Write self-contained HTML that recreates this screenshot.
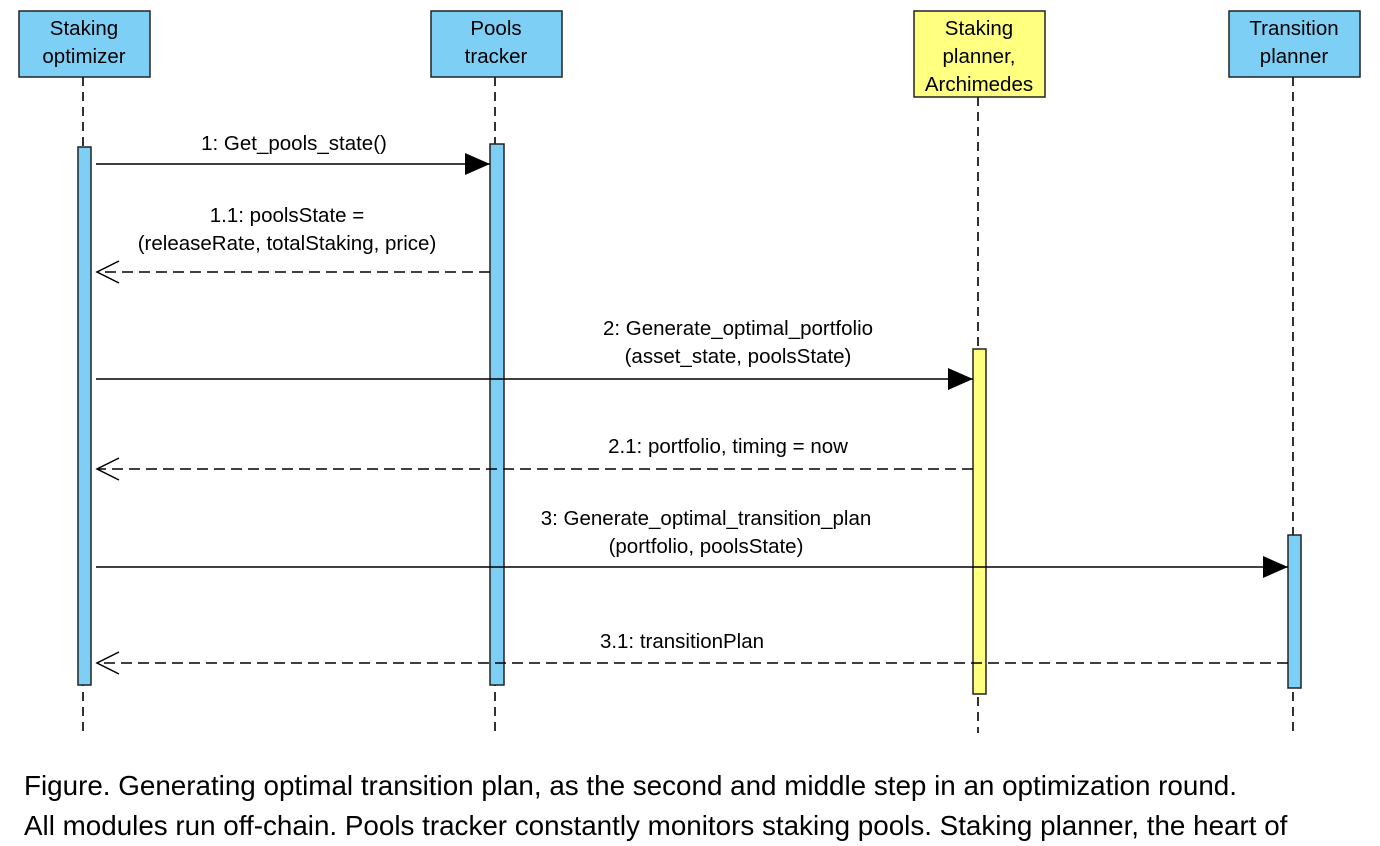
<!DOCTYPE html>
<html><head><style>
body{margin:0;background:#fff;}
svg{display:block;font-family:"Liberation Sans",Arial,sans-serif;}
</style></head><body>
<svg width="1380" height="846" xmlns="http://www.w3.org/2000/svg">
<defs>
<marker id="f" markerWidth="26" markerHeight="22" refX="25" refY="11" orient="auto" markerUnits="userSpaceOnUse"><path d="M0,0 L25,11 L0,22 z" fill="#000"/></marker>
<marker id="o" markerWidth="26" markerHeight="26" refX="23" refY="12" orient="auto" markerUnits="userSpaceOnUse"><path d="M1,1 L23,12 L1,23" fill="none" stroke="#000" stroke-width="1.5"/></marker>
</defs>
<g stroke="#000" stroke-width="1.6" stroke-dasharray="9,6">
<line x1="83" y1="77" x2="83" y2="733"/>
<line x1="495" y1="77" x2="495" y2="733"/>
<line x1="978" y1="97" x2="978" y2="733"/>
<line x1="1293" y1="77" x2="1293" y2="733"/>
</g>
<g stroke="#222" stroke-width="1.5">
<rect x="19" y="11" width="131" height="66" fill="#7dcff5"/>
<rect x="431" y="11" width="131" height="66" fill="#7dcff5"/>
<rect x="914" y="11" width="131" height="86" fill="#ffff80"/>
<rect x="1229" y="11" width="131" height="66" fill="#7dcff5"/>
<rect x="78" y="147" width="13" height="538" fill="#7dcff5"/>
<rect x="490" y="144" width="14" height="541" fill="#7dcff5"/>
<rect x="973" y="349" width="13" height="345" fill="#ffff80"/>
<rect x="1288" y="535" width="13" height="153" fill="#7dcff5"/>
</g>
<g font-size="20.5" text-anchor="middle" fill="#000">
<text x="84" y="35">Staking</text><text x="84" y="63">optimizer</text>
<text x="496" y="35">Pools</text><text x="496" y="63">tracker</text>
<text x="979" y="35">Staking</text><text x="979" y="63">planner,</text><text x="979" y="91">Archimedes</text>
<text x="1294" y="35">Transition</text><text x="1294" y="63">planner</text>
</g>
<g stroke="#000" stroke-width="1.6" fill="none">
<line x1="96" y1="164" x2="490" y2="164" marker-end="url(#f)"/>
<line x1="490" y1="272" x2="97" y2="272" stroke-dasharray="11,6" marker-end="url(#o)"/>
<line x1="96" y1="379" x2="973" y2="379" marker-end="url(#f)"/>
<line x1="973" y1="469" x2="97" y2="469" stroke-dasharray="11,6" marker-end="url(#o)"/>
<line x1="96" y1="567" x2="1288" y2="567" marker-end="url(#f)"/>
<line x1="1288" y1="663" x2="97" y2="663" stroke-dasharray="11,6" marker-end="url(#o)"/>
</g>
<g font-size="20.5" text-anchor="middle" fill="#000">
<text x="294" y="150">1: Get_pools_state()</text>
<text x="287" y="222">1.1: poolsState =</text>
<text x="287" y="250">(releaseRate, totalStaking, price)</text>
<text x="738" y="335">2: Generate_optimal_portfolio</text>
<text x="738" y="363">(asset_state, poolsState)</text>
<text x="728" y="453">2.1: portfolio, timing = now</text>
<text x="706" y="525">3: Generate_optimal_transition_plan</text>
<text x="706" y="553">(portfolio, poolsState)</text>
<text x="682" y="648">3.1: transitionPlan</text>
</g>
<g font-size="27.8" fill="#000">
<text x="24" y="795">Figure. Generating optimal transition plan, as the second and middle step in an optimization round.</text>
<text x="24" y="835">All modules run off-chain. Pools tracker constantly monitors staking pools. Staking planner, the heart of</text>
</g>
</svg>
</body></html>
